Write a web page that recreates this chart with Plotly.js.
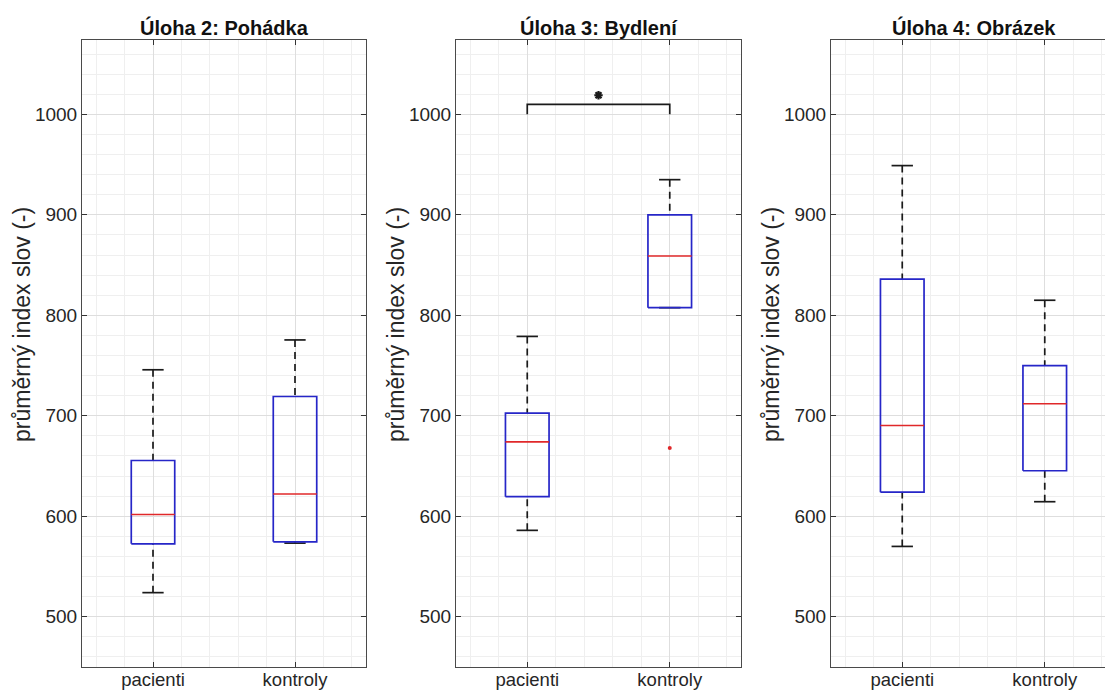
<!DOCTYPE html>
<html>
<head>
<meta charset="utf-8">
<script src="https://cdn.plot.ly/plotly-3.0.1.min.js"></script>
<style>
html, body { margin: 0; padding: 0; overflow: hidden; background: #fff; }
#chart { width: 1120px; height: 693px; }
</style>
</head>
<body>
<div id="chart"></div>
<script>
// ---- data ----
const categories = ['pacienti', 'kontroly'];
const panelTitles = ['Úloha 2: Pohádka', 'Úloha 3: Bydlení', 'Úloha 4: Obrázek'];
const yAxisLabel = 'průměrný index slov (-)';

const whiskerLow  = [[524, 573.3], [586, 807.6], [570, 614.5]];
const q1          = [[572.6, 574.6], [619.5, 807.6], [624, 645.3]];
const medians     = [[601.8, 622.1], [674, 859], [690.4, 712]];
const q3          = [[655.5, 719.2], [702.7, 900], [836, 750]];
const whiskerHigh = [[745.8, 775.5], [779, 935], [949, 815]];

const outlierPanel = [1];      // panel index (0-based)
const outlierGroup = [2];      // category position
const outlierValue = [668];

const sigPanel = 1;            // panel with significance bracket
const sigGroups = [1, 2];
const sigBase = 1000;
const sigTop = 1010;
const sigStarY = 1019;
const sigLabel = '*';

const yTicks = [500, 600, 700, 800, 900, 1000];

// ---- styling / geometry ----
const W = 1120, H = 693;
const domainsPx = [[82, 366], [456, 741], [831, 1116]];
const plotTopPx = 40, plotBotPx = 667;
const boxHalf = 0.153, capHalf = 0.075;
const blue = '#2626c8', red = '#e0282a', black = '#1a1a1a';
const fontFam = '"Liberation Sans", Arial, Helvetica, sans-serif';

const traces = [];
const layout = {
  width: W, height: H,
  margin: {l: 0, r: 0, t: 0, b: 0},
  paper_bgcolor: '#fff', plot_bgcolor: '#fff',
  showlegend: false,
  font: {family: fontFam, color: '#262626', size: 19},
  annotations: [],
  shapes: []
};

panelTitles.forEach((title, i) => {
  const xa = i === 0 ? 'x' : 'x' + (i + 1);
  const ya = i === 0 ? 'y' : 'y' + (i + 1);
  const xk = i === 0 ? 'xaxis' : 'xaxis' + (i + 1);
  const yk = i === 0 ? 'yaxis' : 'yaxis' + (i + 1);

  const wx = [], wy = [], cx = [], cy = [], bx = [], by = [], mx = [], my = [];
  categories.forEach((cat, g) => {
    const c = g + 1;
    wx.push(c, c, null, c, c, null);
    wy.push(whiskerHigh[i][g], q3[i][g], null, whiskerLow[i][g], q1[i][g], null);
    cx.push(c - capHalf, c + capHalf, null, c - capHalf, c + capHalf, null);
    cy.push(whiskerHigh[i][g], whiskerHigh[i][g], null, whiskerLow[i][g], whiskerLow[i][g], null);
    bx.push(c - boxHalf, c + boxHalf, c + boxHalf, c - boxHalf, c - boxHalf, null);
    by.push(q1[i][g], q1[i][g], q3[i][g], q3[i][g], q1[i][g], null);
    mx.push(c - boxHalf, c + boxHalf, null);
    my.push(medians[i][g], medians[i][g], null);
  });
  traces.push({x: wx, y: wy, xaxis: xa, yaxis: ya, mode: 'lines', hoverinfo: 'skip',
    line: {color: black, width: 1.7, dash: '7px,5px'}});
  traces.push({x: cx, y: cy, xaxis: xa, yaxis: ya, mode: 'lines', hoverinfo: 'skip',
    line: {color: black, width: 1.7}});
  traces.push({x: bx, y: by, xaxis: xa, yaxis: ya, mode: 'lines', hoverinfo: 'skip',
    line: {color: blue, width: 1.7}});
  traces.push({x: mx, y: my, xaxis: xa, yaxis: ya, mode: 'lines', hoverinfo: 'skip',
    line: {color: red, width: 1.6}});

  const ox = [], oy = [];
  outlierPanel.forEach((p, k) => { if (p === i) { ox.push(outlierGroup[k]); oy.push(outlierValue[k]); } });
  if (ox.length) {
    traces.push({x: ox, y: oy, xaxis: xa, yaxis: ya, mode: 'markers', hoverinfo: 'skip',
      marker: {color: red, size: 4}});
  }

  if (i === sigPanel) {
    traces.push({x: [sigGroups[0], sigGroups[0], sigGroups[1], sigGroups[1]],
      y: [sigBase, sigTop, sigTop, sigBase], xaxis: xa, yaxis: ya, mode: 'lines', hoverinfo: 'skip',
      line: {color: black, width: 1.7}});
    traces.push({x: [(sigGroups[0] + sigGroups[1]) / 2], y: [sigStarY], xaxis: xa, yaxis: ya,
      mode: 'markers', hoverinfo: 'skip', text: [sigLabel],
      marker: {symbol: 'asterisk-open', size: 7, color: black, line: {color: black, width: 2.2}}});
  }

  const d = domainsPx[i];
  layout[xk] = {
    domain: [d[0] / W, d[1] / W],
    anchor: ya,
    range: [0.5, 2.5],
    tickmode: 'array', tickvals: [1, 2], ticktext: categories,
    ticks: 'inside', ticklen: 5, tickcolor: '#333', tickwidth: 1,
    ticklabelstandoff: -4,
    showline: true, linecolor: '#4a4a4a', linewidth: 1, mirror: 'ticks',
    showgrid: true, gridcolor: '#dedede', gridwidth: 1,
    zeroline: false, fixedrange: true,
    tickfont: {family: fontFam, size: 18.5, color: '#262626'},
    minor: {tick0: 0, dtick: 0.2, showgrid: true, gridcolor: '#efefef', gridwidth: 1, ticks: ''}
  };
  layout[yk] = {
    domain: [1 - plotBotPx / H, 1 - plotTopPx / H],
    anchor: xa,
    range: [450, 1074],
    tickmode: 'array', tickvals: yTicks,
    ticks: 'inside', ticklen: 5, tickcolor: '#333', tickwidth: 1,
    showline: true, linecolor: '#4a4a4a', linewidth: 1, mirror: 'ticks',
    showgrid: true, gridcolor: '#dedede', gridwidth: 1,
    zeroline: false, fixedrange: true,
    tickfont: {family: fontFam, size: 19, color: '#262626'},
    minor: {tick0: 0, dtick: 20, showgrid: true, gridcolor: '#efefef', gridwidth: 1, ticks: ''}
  };

  layout.annotations.push({
    xref: 'paper', yref: 'paper',
    x: (d[0] + d[1]) / 2 / W, y: 1 - 27 / H,
    xanchor: 'center', yanchor: 'middle', showarrow: false,
    text: '<b>' + title + '</b>',
    font: {family: fontFam, size: 20, color: '#111'}
  });
  layout.annotations.push({
    xref: 'paper', yref: 'paper',
    x: (d[0] - 60) / W, y: 1 - 325 / H,
    xanchor: 'center', yanchor: 'middle', showarrow: false,
    textangle: -90,
    text: yAxisLabel,
    font: {family: fontFam, size: 23, color: '#262626'}
  });
});

Plotly.newPlot('chart', traces, layout, {staticPlot: true, displayModeBar: false});
</script>
</body>
</html>
